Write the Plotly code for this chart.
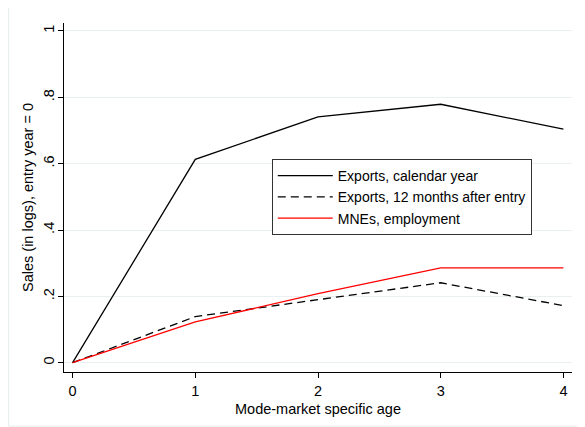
import plotly.graph_objects as go

age = [0, 1, 2, 3, 4]
exports_calendar = [0, 0.613, 0.741, 0.779, 0.704]
exports_12m = [0, 0.139, 0.190, 0.241, 0.172]
mne_employment = [0, 0.123, 0.208, 0.286, 0.286]
y_ticks = [0, 0.2, 0.4, 0.6, 0.8, 1]
y_labels = ["0", ".2", ".4", ".6", ".8", "1"]

fig = go.Figure()
fig.add_trace(go.Scatter(x=age, y=exports_calendar, mode="lines",
                         name="Exports, calendar year",
                         line=dict(color="black", width=1.3)))
fig.add_trace(go.Scatter(x=age, y=exports_12m, mode="lines",
                         name="Exports, 12 months after entry",
                         line=dict(color="black", width=1.3, dash="8px,5px")))
fig.add_trace(go.Scatter(x=age, y=mne_employment, mode="lines",
                         name="MNEs, employment",
                         line=dict(color="red", width=1.3)))

font = "Liberation Sans, Arial, Helvetica, sans-serif"
fig.update_layout(
    width=577, height=419,
    margin=dict(l=56, r=13, t=15, b=55),
    paper_bgcolor="white", plot_bgcolor="white",
    font=dict(family=font, size=14.5, color="black"),
    showlegend=True,
    legend=dict(x=0.409, y=0.61, xanchor="left", yanchor="top",
                bordercolor="#333333", borderwidth=1, bgcolor="white",
                font=dict(size=14), itemwidth=55, tracegroupgap=0),
    xaxis=dict(range=[-0.07, 4.07], tickvals=age, ticktext=[str(a) for a in age],
               showgrid=False, zeroline=False, showline=True, linecolor="black",
               linewidth=1.2, ticks="outside", ticklen=5, tickcolor="black",
               automargin=False,
               title=dict(text="Mode-market specific age", font=dict(size=14.5), standoff=6)),
    yaxis=dict(range=[-0.028, 1.024], tickvals=y_ticks, ticktext=y_labels,
               tickangle=-90, showgrid=True, gridcolor="#eaf0f2", gridwidth=1,
               zeroline=False, showline=True, linecolor="black", linewidth=1.2,
               ticks="outside", ticklen=5, tickcolor="black",
               ticklabelstandoff=-2,
               automargin=False,
               title=dict(text="Sales (in logs), entry year = 0", font=dict(size=14.5), standoff=4)),
    shapes=[dict(type="rect", xref="paper", yref="paper",
                 x0=-0.109, x1=1.024, y0=-0.155, y1=1.046,
                 line=dict(color="#e6ecee", width=1), layer="below")],
)

fig.write_html("out.html")
